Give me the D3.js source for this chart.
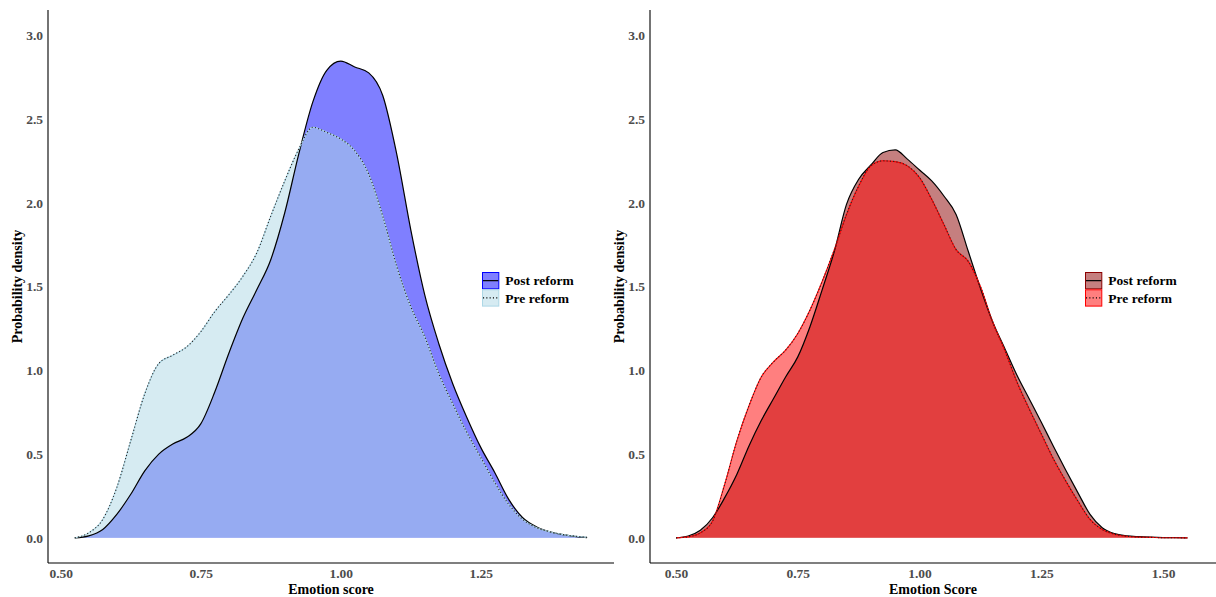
<!DOCTYPE html>
<html>
<head>
<meta charset="utf-8">
<script src="https://cdn.jsdelivr.net/npm/d3@7"></script>
<style>
  html, body { margin: 0; padding: 0; background: #fff; }
  svg { display: block; }
  text { font-family: "Liberation Serif", "Times New Roman", serif; }
</style>
</head>
<body>
<svg id="chart" width="1216" height="597"></svg>
<script>
// Density estimates of emotion scores, before and after the reform.
const seriesNames = ["Post reform", "Pre reform"];

// Left panel: evaluation grid and densities
const leftGrid = [0.525, 0.55, 0.575, 0.60, 0.625, 0.65, 0.675, 0.70, 0.725, 0.75,
  0.775, 0.80, 0.825, 0.85, 0.875, 0.90, 0.925, 0.95, 0.975, 1.00,
  1.025, 1.05, 1.075, 1.10, 1.125, 1.15, 1.175, 1.20, 1.225, 1.25,
  1.275, 1.30, 1.325, 1.35, 1.375, 1.40, 1.425, 1.44];
const leftPost = [0, 0.012, 0.05, 0.14, 0.26, 0.40, 0.50, 0.56, 0.60, 0.68,
  0.87, 1.10, 1.31, 1.48, 1.66, 1.94, 2.29, 2.60, 2.79, 2.845,
  2.81, 2.775, 2.64, 2.29, 1.84, 1.45, 1.16, 0.92, 0.72, 0.54,
  0.39, 0.23, 0.12, 0.065, 0.035, 0.018, 0.006, 0.002];
const leftPre = [0, 0.03, 0.11, 0.30, 0.58, 0.86, 1.04, 1.09, 1.14, 1.23,
  1.35, 1.45, 1.56, 1.70, 1.92, 2.13, 2.32, 2.45, 2.42, 2.38,
  2.31, 2.17, 1.92, 1.62, 1.38, 1.20, 0.98, 0.80, 0.63, 0.48,
  0.33, 0.20, 0.11, 0.06, 0.035, 0.018, 0.008, 0.003];

// Right panel: evaluation grid and densities
const rightGrid = [0.50, 0.525, 0.55, 0.575, 0.60, 0.625, 0.65, 0.675, 0.70, 0.725,
  0.75, 0.775, 0.80, 0.825, 0.85, 0.875, 0.90, 0.925, 0.95, 0.975,
  1.00, 1.025, 1.05, 1.075, 1.10, 1.125, 1.15, 1.175, 1.20, 1.225,
  1.25, 1.275, 1.30, 1.325, 1.35, 1.375, 1.40, 1.425, 1.45, 1.475,
  1.50, 1.525, 1.55];
const rightPost = [0, 0.011, 0.045, 0.12, 0.24, 0.38, 0.55, 0.70, 0.83, 0.96,
  1.08, 1.26, 1.48, 1.71, 1.99, 2.14, 2.225, 2.30, 2.315, 2.26,
  2.195, 2.13, 2.04, 1.93, 1.71, 1.49, 1.29, 1.13, 0.97, 0.83,
  0.69, 0.545, 0.405, 0.27, 0.14, 0.06, 0.025, 0.012, 0.007, 0.004,
  0.002, 0.001, 0];
const rightPre = [0, 0.006, 0.03, 0.10, 0.32, 0.58, 0.79, 0.96, 1.05, 1.12,
  1.22, 1.36, 1.53, 1.72, 1.93, 2.10, 2.22, 2.25, 2.245, 2.22,
  2.15, 2.02, 1.87, 1.72, 1.65, 1.50, 1.29, 1.12, 0.93, 0.77,
  0.62, 0.47, 0.34, 0.22, 0.11, 0.05, 0.022, 0.01, 0.005, 0.003,
  0.001, 0.0005, 0];

// Tick values
const yTicks = [0, 0.5, 1.0, 1.5, 2.0, 2.5, 3.0];
const leftXTicks = [0.50, 0.75, 1.00, 1.25];
const rightXTicks = [0.50, 0.75, 1.00, 1.25, 1.50];

const svg = d3.select("#chart");

const panels = [
  {
    left: 48, right: 614, xDomain: [0.4772, 1.488],
    grid: leftGrid, post: leftPost, pre: leftPre, xTicks: leftXTicks,
    xTitle: "Emotion score", yTitleX: 17.5,
    postFill: "blue", postKeyStroke: "blue",
    preFill: "lightblue", preEdge: "lightblue",
    legendX: 482
  },
  {
    left: 650, right: 1216, xDomain: [0.4466, 1.6086],
    grid: rightGrid, post: rightPost, pre: rightPre, xTicks: rightXTicks,
    xTitle: "Emotion Score", yTitleX: 619,
    postFill: "darkred", postKeyStroke: "darkred",
    preFill: "red", preEdge: "red",
    legendX: 1085
  }
];

const plotTop = 10, plotBottom = 563;
const y = d3.scaleLinear().domain([-0.15, 3.15]).range([plotBottom, plotTop]);
const tickFont = 13.5, titleFont = 14, legendFont = 13.5;

panels.forEach(p => {
  const x = d3.scaleLinear().domain(p.xDomain).range([p.left, p.right]);
  const g = svg.append("g");

  const area = d3.area()
    .x(d => x(d[0])).y0(y(0)).y1(d => y(d[1]))
    .curve(d3.curveMonotoneX);
  const line = d3.line()
    .x(d => x(d[0])).y(d => y(d[1]))
    .curve(d3.curveMonotoneX);

  const postPts = p.grid.map((v, i) => [v, p.post[i]]);
  const prePts = p.grid.map((v, i) => [v, p.pre[i]]);

  // Filled densities: post first, pre laid over it
  g.append("path").attr("d", area(postPts))
    .attr("fill", p.postFill).attr("fill-opacity", 0.5);
  g.append("path").attr("d", area(prePts))
    .attr("fill", p.preFill).attr("fill-opacity", 0.5);

  // Outlines
  g.append("path").attr("d", line(postPts))
    .attr("fill", "none").attr("stroke", "black").attr("stroke-width", 1.2);
  g.append("path").attr("d", line(prePts))
    .attr("fill", "none").attr("stroke", p.preEdge).attr("stroke-width", 1.1);
  g.append("path").attr("d", line(prePts))
    .attr("fill", "none").attr("stroke", "#222").attr("stroke-width", 1.1)
    .attr("stroke-dasharray", "1.1,2.2");

  // Axes (no tick marks)
  const xAxis = d3.axisBottom(x).tickValues(p.xTicks)
    .tickFormat(d3.format(".2f")).tickSize(0).tickPadding(5.4);
  const yAxis = d3.axisLeft(y).tickValues(yTicks)
    .tickFormat(d3.format(".1f")).tickSize(0).tickPadding(5);

  const gx = g.append("g").attr("transform", `translate(0,${plotBottom})`).call(xAxis);
  const gy = g.append("g").attr("transform", `translate(${p.left},0)`).call(yAxis);

  [gx, gy].forEach(ax => {
    ax.select(".domain").attr("stroke", "black").attr("stroke-width", 1.1);
    ax.selectAll("text")
      .attr("font-family", '"Liberation Serif", "Times New Roman", serif')
      .attr("font-size", tickFont).attr("font-weight", "bold").attr("fill", "#4D4D4D");
  });
  gx.select(".domain").attr("d", `M${p.left},0H${p.right}`);
  gy.select(".domain").attr("d", `M0,${plotTop}V${plotBottom}`);

  // Axis titles
  g.append("text")
    .attr("x", (p.left + p.right) / 2).attr("y", 594)
    .attr("text-anchor", "middle").attr("font-size", titleFont).attr("font-weight", "bold")
    .text(p.xTitle);
  g.append("text")
    .attr("transform", `translate(${p.yTitleX},${(plotTop + plotBottom) / 2}) rotate(-90)`)
    .attr("text-anchor", "middle").attr("dy", "0.35em")
    .attr("font-size", titleFont).attr("font-weight", "bold")
    .text("Probability density");

  // Legend
  const lg = g.append("g").attr("transform", `translate(${p.legendX},272)`);
  const keyW = 17.3, keyH = 17.3;
  const keys = [
    { name: seriesNames[0], fill: p.postFill, stroke: p.postKeyStroke, dash: null },
    { name: seriesNames[1], fill: p.preFill, stroke: p.preEdge, dash: "1.1,2.2" }
  ];
  keys.forEach((k, i) => {
    const ky = i * keyH;
    lg.append("rect").attr("x", 0.5).attr("y", ky + 0.5)
      .attr("width", keyW - 1).attr("height", keyH - 1)
      .attr("fill", k.fill).attr("fill-opacity", 0.5)
      .attr("stroke", k.stroke).attr("stroke-width", 1);
    lg.append("line").attr("x1", 1).attr("x2", keyW - 1)
      .attr("y1", ky + keyH / 2).attr("y2", ky + keyH / 2)
      .attr("stroke", "black").attr("stroke-width", 1.2)
      .attr("stroke-dasharray", k.dash);
    lg.append("text").attr("x", keyW + 6).attr("y", ky + keyH / 2)
      .attr("dy", "0.35em").attr("font-size", legendFont).attr("font-weight", "bold")
      .text(k.name);
  });
});
</script>
</body>
</html>
